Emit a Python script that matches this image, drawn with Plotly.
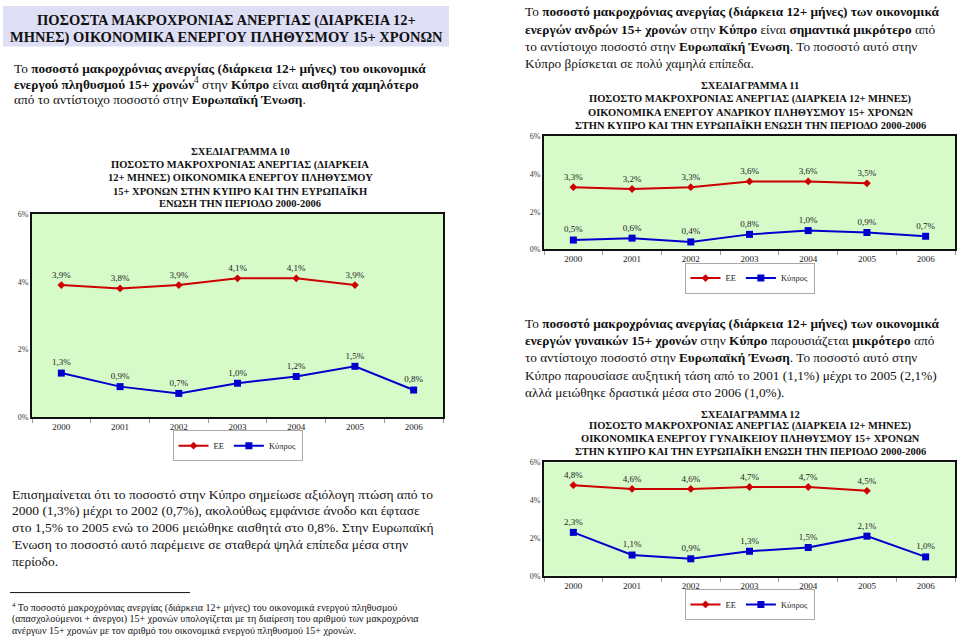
import plotly.graph_objects as go

W, H = 960, 639
FONT = "Liberation Serif"

# ---------------- data ----------------
years = ["2000", "2001", "2002", "2003", "2004", "2005", "2006"]
series_names = ["ΕΕ", "Κύπρος"]

# EU values available 2000-2005 only
ee_total = [3.9, 3.8, 3.9, 4.1, 4.1, 3.9]
cy_total = [1.3, 0.9, 0.7, 1.0, 1.2, 1.5, 0.8]

ee_men = [3.3, 3.2, 3.3, 3.6, 3.6, 3.5]
cy_men = [0.5, 0.6, 0.4, 0.8, 1.0, 0.9, 0.7]

ee_women = [4.8, 4.6, 4.6, 4.7, 4.7, 4.5]
cy_women = [2.3, 1.1, 0.9, 1.3, 1.5, 2.1, 1.0]

y_tick_vals = [0, 2, 4, 6]
y_tick_text = ["0%", "2%", "4%", "6%"]

title10 = ["ΣΧΕΔΙΑΓΡΑΜΜΑ 10",
           "ΠΟΣΟΣΤΟ ΜΑΚΡΟΧΡΟΝΙΑΣ ΑΝΕΡΓΙΑΣ (ΔΙΑΡΚΕΙΑ",
           "12+ ΜΗΝΕΣ) ΟΙΚΟΝΟΜΙΚΑ ΕΝΕΡΓΟΥ ΠΛΗΘΥΣΜΟΥ",
           "15+ ΧΡΟΝΩΝ ΣΤΗΝ ΚΥΠΡΟ ΚΑΙ ΤΗΝ ΕΥΡΩΠΑΪΚΗ",
           "ΕΝΩΣΗ ΤΗΝ ΠΕΡΙΟΔΟ 2000-2006"]
title11 = ["ΣΧΕΔΙΑΓΡΑΜΜΑ 11",
           "ΠΟΣΟΣΤΟ ΜΑΚΡΟΧΡΟΝΙΑΣ ΑΝΕΡΓΙΑΣ (ΔΙΑΡΚΕΙΑ 12+ ΜΗΝΕΣ)",
           "ΟΙΚΟΝΟΜΙΚΑ ΕΝΕΡΓΟΥ ΑΝΔΡΙΚΟΥ ΠΛΗΘΥΣΜΟΥ 15+ ΧΡΟΝΩΝ",
           "ΣΤΗΝ ΚΥΠΡΟ ΚΑΙ ΤΗΝ ΕΥΡΩΠΑΪΚΗ ΕΝΩΣΗ ΤΗΝ ΠΕΡΙΟΔΟ 2000-2006"]
title12 = ["ΣΧΕΔΙΑΓΡΑΜΜΑ 12",
           "ΠΟΣΟΣΤΟ ΜΑΚΡΟΧΡΟΝΙΑΣ ΑΝΕΡΓΙΑΣ (ΔΙΑΡΚΕΙΑ 12+ ΜΗΝΕΣ)",
           "ΟΙΚΟΝΟΜΙΚΑ ΕΝΕΡΓΟΥ ΓΥΝΑΙΚΕΙΟΥ ΠΛΗΘΥΣΜΟΥ 15+ ΧΡΟΝΩΝ",
           "ΣΤΗΝ ΚΥΠΡΟ ΚΑΙ ΤΗΝ ΕΥΡΩΠΑΪΚΗ ΕΝΩΣΗ ΤΗΝ ΠΕΡΙΟΔΟ 2000-2006"]

header_lines = ["ΠΟΣΟΣΤΑ ΜΑΚΡΟΧΡΟΝΙΑΣ ΑΝΕΡΓΙΑΣ (ΔΙΑΡΚΕΙΑ 12+",
                "ΜΗΝΕΣ) ΟΙΚΟΝΟΜΙΚΑ ΕΝΕΡΓΟΥ ΠΛΗΘΥΣΜΟΥ 15+ ΧΡΟΝΩΝ"]

para_left1 = ["Το <b>ποσοστό μακροχρόνιας ανεργίας (διάρκεια 12+ μήνες) του οικονομικά</b>",
              "<b>ενεργού πληθυσμού 15+ χρονών</b><sup>4</sup> στην <b>Κύπρο</b> είναι <b>αισθητά χαμηλότερο</b>",
              "από το αντίστοιχο ποσοστό στην <b>Ευρωπαϊκή Ένωση</b>."]
para_left2 = ["Επισημαίνεται ότι το ποσοστό στην Κύπρο σημείωσε αξιόλογη πτώση από το",
              "2000 (1,3%) μέχρι το 2002 (0,7%), ακολούθως εμφάνισε άνοδο και έφτασε",
              "στο 1,5% το 2005 ενώ το 2006 μειώθηκε αισθητά στο 0,8%. Στην Ευρωπαϊκή",
              "Ένωση το ποσοστό αυτό παρέμεινε σε σταθερά ψηλά επίπεδα μέσα στην",
              "περίοδο."]
footnote = ["<sup>4</sup> Το ποσοστό μακροχρόνιας ανεργίας (διάρκεια 12+ μήνες) του οικονομικά ενεργού πληθυσμού",
            "(απασχολούμενοι + άνεργοι) 15+ χρονών υπολογίζεται με τη διαίρεση του αριθμού των μακροχρόνια",
            "ανέργων 15+ χρονών με τον αριθμό του οικονομικά ενεργού πληθυσμού 15+ χρονών."]
para_right1 = ["Το <b>ποσοστό μακροχρόνιας ανεργίας (διάρκεια 12+ μήνες) των οικονομικά</b>",
               "<b>ενεργών ανδρών 15+ χρονών</b> στην <b>Κύπρο</b> είναι <b>σημαντικά μικρότερο</b> από",
               "το αντίστοιχο ποσοστό στην <b>Ευρωπαϊκή Ένωση</b>. Το ποσοστό αυτό στην",
               "Κύπρο βρίσκεται σε πολύ χαμηλά επίπεδα."]
para_right2 = ["Το <b>ποσοστό μακροχρόνιας ανεργίας (διάρκεια 12+ μήνες) των οικονομικά</b>",
               "<b>ενεργών γυναικών 15+ χρονών</b> στην <b>Κύπρο</b> παρουσιάζεται <b>μικρότερο</b> από",
               "το αντίστοιχο ποσοστό στην <b>Ευρωπαϊκή Ένωση</b>. Το ποσοστό αυτό στην",
               "Κύπρο παρουσίασε αυξητική τάση από το 2001 (1,1%) μέχρι το 2005 (2,1%)",
               "αλλά μειώθηκε δραστικά μέσα στο 2006 (1,0%)."]


def px(x):
    return x / W


def py(y):
    return 1 - y / H


def lab(vals):
    return [f"{v:.1f}%".replace(".", ",") for v in vals]


fig = go.Figure()

charts = [
    # (ee, cy, xaxis, yaxis, legend, x0, x1, ytop, ybot)
    (ee_total, cy_total, "x", "y", "legend", 32, 443, 213, 419),
    (ee_men, cy_men, "x2", "y2", "legend2", 544, 955, 134, 249),
    (ee_women, cy_women, "x3", "y3", "legend3", 544, 955, 465, 580),
]

EE_COL = "#cc0000"
CY_COL = "#0000cc"

for i, (ee, cy, xa, ya, lg, x0, x1, yt, yb) in enumerate(charts):
    fig.add_trace(go.Scatter(
        x=years[:len(ee)], y=ee, name=series_names[0], mode="lines+markers+text",
        text=lab(ee), textposition="top center",
        textfont=dict(family=FONT, size=9, color="#222"),
        line=dict(color=EE_COL, width=2),
        marker=dict(symbol="diamond", size=6, color=EE_COL),
        xaxis=xa, yaxis=ya, legend=lg, cliponaxis=False))
    fig.add_trace(go.Scatter(
        x=years[:len(cy)], y=cy, name=series_names[1], mode="lines+markers+text",
        text=lab(cy), textposition="top center",
        textfont=dict(family=FONT, size=9, color="#222"),
        line=dict(color=CY_COL, width=2),
        marker=dict(symbol="square", size=7, color=CY_COL),
        xaxis=xa, yaxis=ya, legend=lg, cliponaxis=False))

    sfx = "" if i == 0 else str(i + 1)
    fig.update_layout(**{
        "xaxis" + sfx: dict(
            domain=[px(x0), px(x1)], anchor="y" + sfx, type="category",
            categoryorder="array", categoryarray=years, range=[-0.5, 6.5],
            showline=True, mirror=True, linecolor="#111", linewidth=2,
            ticks="outside", tickson="boundaries", ticklen=4, tickcolor="#999",
            showgrid=False, zeroline=False,
            tickfont=dict(family=FONT, size=9, color="#222")),
        "yaxis" + sfx: dict(
            domain=[py(yb), py(yt)], anchor="x" + sfx, range=[0, 6],
            tickvals=y_tick_vals, ticktext=y_tick_text,
            showline=True, mirror=True, linecolor="#111", linewidth=2,
            ticks="", showgrid=False, zeroline=False,
            tickfont=dict(family=FONT, size=8, color="#333")),
        lg: dict(
            orientation="h", x=px((x0 + x1) / 2), xanchor="center",
            y=py(yb + 29), yanchor="middle", bgcolor="white",
            bordercolor="#aaa", borderwidth=1,
            font=dict(family=FONT, size=8.5, color="#222"),
            itemwidth=30, tracegroupgap=0),
    })

annotations = []


def add_lines(lines, x, y0, dy, size, anchor="left", bold=False, color="#111"):
    for k, t in enumerate(lines):
        txt = f"<b>{t}</b>" if bold else t
        annotations.append(dict(
            text=txt, x=px(x), y=py(y0 + k * dy), xref="paper", yref="paper",
            xanchor=anchor, yanchor="middle", showarrow=False,
            font=dict(family=FONT, size=size, color=color)))


add_lines(header_lines, 226, 17, 17, 14.5, anchor="center", bold=True)
add_lines(para_left1, 12, 65, 16, 13.3)
add_lines(title10, 240, 150, 13.2, 10.5, anchor="center", bold=True)
add_lines(para_left2, 10, 497, 17, 13.5)
add_lines(footnote, 10, 612, 11.5, 10)
add_lines(para_right1, 523, 8, 17.5, 13.3)
add_lines(title11, 750, 83, 13.3, 10.5, anchor="center", bold=True)
add_lines(para_right2, 523, 324, 17.5, 13.3)
add_lines(title12, 750, 416, 12.5, 10.5, anchor="center", bold=True)

shapes = [
    dict(type="rect", xref="paper", yref="paper", x0=px(3), x1=px(449),
         y0=py(43), y1=py(2), fillcolor="#dedef5", line=dict(width=0), layer="below"),
    dict(type="line", xref="paper", yref="paper", x0=px(10), x1=px(190),
         y0=py(597), y1=py(597), line=dict(color="#111", width=1)),
]
for (_, _, xa, ya, _, x0, x1, yt, yb) in charts:
    shapes.append(dict(type="rect", xref="paper", yref="paper", x0=px(x0), x1=px(x1),
                       y0=py(yb), y1=py(yt), fillcolor="#d6fbc9",
                       line=dict(width=0), layer="below"))

fig.update_layout(
    width=W, height=H, margin=dict(l=0, r=0, t=0, b=0),
    paper_bgcolor="white", plot_bgcolor="rgba(0,0,0,0)",
    annotations=annotations, shapes=shapes, showlegend=True,
    font=dict(family=FONT),
)

fig.write_html("out.html", config={"displayModeBar": False},
               post_script="document.body.style.margin='0';document.body.style.overflow='hidden';")
